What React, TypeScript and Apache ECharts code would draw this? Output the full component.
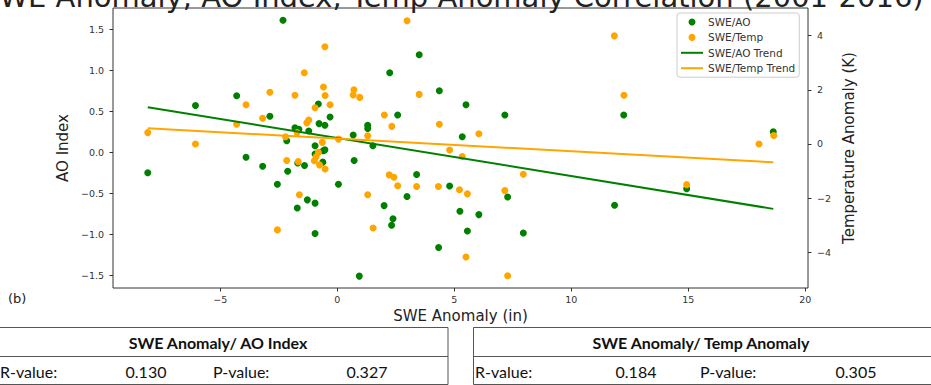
import React, { useEffect, useRef } from "react";
import * as echarts from "echarts";

// SWE anomaly (in) vs AO index
const aoPoints: [number, number][] = [
  [-8.1, -0.25], [-6.06, 0.57], [-4.3, 0.69], [-3.9, -0.06], [-3.19, -0.17],
  [-2.88, 0.44], [-2.56, -0.39], [-2.32, 1.61], [-2.16, 0.14], [-2.12, -0.23],
  [-1.81, 0.3], [-1.64, 0.28], [-1.71, -0.68], [-1.69, -0.13], [-1.4, -0.16],
  [-1.28, -0.58], [-1.22, 0.26], [-0.95, 0.08], [-0.95, -0.02], [-0.95, -0.62],
  [-0.95, -0.99], [-0.81, 0.59], [-0.78, 0.35], [-0.6, 0.02], [-0.53, 0.33],
  [-0.53, 0.03], [-0.62, -0.12], [-0.31, 0.43], [0.05, -0.39], [0.68, 0.21],
  [0.72, -0.1], [0.94, -1.51], [1.3, 0.33], [1.3, 0.29], [1.52, 0.08],
  [2.0, -0.65], [2.24, 0.97], [2.38, -0.81], [2.32, -0.89], [2.58, 0.455],
  [2.98, -0.54], [3.39, -0.27], [3.5, 1.19], [4.33, -1.16], [4.36, 0.75],
  [4.8, -0.41], [5.24, -0.72], [5.34, 0.19], [5.5, 0.58], [5.56, -0.96],
  [6.05, -0.76], [7.16, 0.455], [7.28, -0.545], [7.95, -0.985], [11.85, -0.646],
  [12.24, 0.455], [14.93, -0.445], [18.63, 0.25],
];

// SWE anomaly (in) vs temperature anomaly (K)
const tempPoints: [number, number][] = [
  [-8.1, 0.42], [-6.06, 0.0], [-4.3, 0.73], [-3.9, 1.45], [-3.19, 0.95],
  [-2.88, 1.91], [-2.56, -3.17], [-2.21, 0.27], [-2.16, -0.61], [-1.81, 1.8],
  [-1.72, 0.42], [-1.67, -0.65], [-1.62, -1.87], [-1.41, 2.63], [-1.3, 0.78],
  [-1.22, 0.88], [-0.95, 1.34], [-0.81, -0.31], [-0.91, -0.47], [-0.98, -0.62],
  [-0.76, -0.77], [-0.52, -0.92], [-0.64, 0.06], [-0.59, 2.1], [-0.52, 1.79],
  [-0.53, 3.59], [-0.31, 1.45], [0.05, 0.18], [0.68, 1.81], [0.71, 2.0],
  [0.96, 1.72], [1.3, 0.3], [1.3, -1.87], [1.53, -3.1], [2.01, 1.07],
  [2.33, 0.65], [2.22, -1.14], [2.42, -1.23], [2.58, -1.54], [2.98, 4.55],
  [3.39, -1.57], [3.5, 1.83], [4.32, -1.57], [4.36, 0.73], [4.8, -0.22],
  [5.22, -1.69], [5.34, -0.46], [5.5, -4.17], [5.56, -1.84], [6.05, 0.38],
  [7.16, -1.72], [7.28, -4.86], [7.95, -1.12], [11.84, 3.99], [12.25, 1.8],
  [14.93, -1.5], [18.02, 0.0], [18.65, 0.31],
];

// Trend line end points
const trendSWE = [-8.1, 18.63];
const aoTrend = [0.55, -0.69];
const tempTrend = [0.58, -0.675];

// Ticks
const xTicks = [-5, 0, 5, 10, 15, 20];
const aoTicks = [-1.5, -1.0, -0.5, 0.0, 0.5, 1.0, 1.5];
const tempTicks = [-4, -2, 0, 2, 4];

// Tables
const tableTitles = ["SWE Anomaly/ AO Index", "SWE Anomaly/ Temp Anomaly"];
const rValues = ["0.130", "0.184"];
const pValues = ["0.327", "0.305"];

const titleText = "SWE Anomaly, AO Index, Temp Anomaly Correlation (2001-2016)";

const GREEN = "#008000";
const ORANGE = "#FFA500";
const AXIS = "#333333";
const FONT = "DejaVu Sans";
const TFONT = "Lato";
const LINE_ICON = "path://M0,0 L22,0 L22,2 L0,2 Z";

const fmt = (d: number) => (v: number) =>
  (v < 0 ? "\u2212" : "") + Math.abs(v).toFixed(d);

export default function App() {
  const ref = useRef<HTMLDivElement>(null);

  useEffect(() => {
    if (!ref.current) return;
    const chart = echarts.init(ref.current, undefined, { renderer: "svg" });

    const tables = [
      { x0: -14, x1: 448, rx: 0, rvx: 146, px: 213, pvx: 367, cx: 218 },
      { x0: 473.5, x1: 940, rx: 475, rvx: 636, px: 700, pvx: 856, cx: 701 },
    ];
    const rowStyle = (text: string, align: string) => ({
      text,
      fontFamily: TFONT,
      fontSize: 16,
      fill: "#111",
      align,
      verticalAlign: "middle",
    });
    const tableGraphics: any[] = [];
    tables.forEach((t, i) => {
      tableGraphics.push(
        {
          type: "rect",
          shape: { x: t.x0, y: 327.5, width: t.x1 - t.x0, height: 57 },
          style: { fill: "none", stroke: "#555", lineWidth: 1 },
        },
        {
          type: "line",
          shape: { x1: t.x0, y1: 356.5, x2: t.x1, y2: 356.5 },
          style: { stroke: "#555", lineWidth: 1 },
        },
        {
          type: "text",
          x: t.cx,
          y: 342,
          style: {
            text: tableTitles[i],
            fontFamily: TFONT,
            fontWeight: "bold",
            fontSize: 16,
            fill: "#111",
            align: "center",
            verticalAlign: "middle",
          },
        },
        { type: "text", x: t.rx, y: 371, style: rowStyle("R-value:", "left") },
        { type: "text", x: t.rvx, y: 371, style: rowStyle(rValues[i], "center") },
        { type: "text", x: t.px, y: 371, style: rowStyle("P-value:", "left") },
        { type: "text", x: t.pvx, y: 371, style: rowStyle(pValues[i], "center") }
      );
    });

    const option: any = {
      animation: false,
      backgroundColor: "#ffffff",
      textStyle: { fontFamily: FONT },
      grid: {
        left: 113,
        right: 123,
        top: 8,
        bottom: 97,
        show: true,
        borderColor: AXIS,
        borderWidth: 1,
        backgroundColor: "transparent",
        outerBoundsMode: "none",
      },
      legend: {
        left: 677,
        top: 13,
        orient: "vertical",
        itemWidth: 22,
        itemHeight: 7,
        itemGap: 3.4,
        padding: [3, 4, 3, 4],
        backgroundColor: "rgba(255,255,255,0.85)",
        borderColor: "#cccccc",
        borderWidth: 1,
        borderRadius: 3,
        textStyle: { fontSize: 10.5, color: "#333", fontFamily: FONT, lineHeight: 12 },
        data: [
          { name: "SWE/AO", icon: "circle" },
          { name: "SWE/Temp", icon: "circle" },
          { name: "SWE/AO Trend", icon: LINE_ICON },
          { name: "SWE/Temp Trend", icon: LINE_ICON },
        ],
      },
      xAxis: {
        type: "value",
        min: -9.585,
        max: 20.115,
        name: "SWE Anomaly (in)",
        nameLocation: "middle",
        nameGap: 20,
        nameTextStyle: { fontSize: 15, color: "#222", fontFamily: FONT },
        splitLine: { show: false },
        axisLine: { show: false, onZero: false },
        axisTick: { show: true, inside: false, length: 3.5, lineStyle: { color: AXIS }, customValues: xTicks },
        axisLabel: { fontSize: 9.5, color: AXIS, margin: 6, formatter: fmt(0), customValues: xTicks },
      },
      yAxis: [
        {
          type: "value",
          position: "left",
          min: -1.655,
          max: 1.76,
          name: "AO Index",
          nameLocation: "middle",
          nameGap: 31,
          nameTextStyle: { fontSize: 15, color: "#222", fontFamily: FONT },
          splitLine: { show: false },
          axisLine: { show: false, onZero: false },
          axisTick: { show: true, inside: false, length: 3.5, lineStyle: { color: AXIS }, customValues: aoTicks },
          axisLabel: { fontSize: 9.5, color: AXIS, margin: 9, formatter: fmt(1), customValues: aoTicks },
        },
        {
          type: "value",
          position: "right",
          min: -5.314,
          max: 5.018,
          name: "Temperature Anomaly (K)",
          nameLocation: "middle",
          nameGap: 21,
          nameRotate: 90,
          nameTextStyle: { fontSize: 15, color: "#222", fontFamily: FONT },
          splitLine: { show: false },
          axisLine: { show: false, onZero: false },
          axisTick: { show: true, inside: false, length: 3.5, lineStyle: { color: AXIS }, customValues: tempTicks },
          axisLabel: { fontSize: 9.5, color: AXIS, margin: 9, formatter: fmt(0), customValues: tempTicks },
        },
      ],
      series: [
        {
          name: "SWE/AO",
          type: "scatter",
          yAxisIndex: 0,
          data: aoPoints,
          symbolSize: 7,
          itemStyle: { color: GREEN, opacity: 1 },
        },
        {
          name: "SWE/Temp",
          type: "scatter",
          yAxisIndex: 1,
          data: tempPoints,
          symbolSize: 7,
          itemStyle: { color: ORANGE, opacity: 1 },
        },
        {
          name: "SWE/AO Trend",
          type: "line",
          yAxisIndex: 0,
          data: trendSWE.map((x, i) => [x, aoTrend[i]]),
          symbol: "none",
          lineStyle: { color: GREEN, width: 2 },
          itemStyle: { color: GREEN },
        },
        {
          name: "SWE/Temp Trend",
          type: "line",
          yAxisIndex: 1,
          data: trendSWE.map((x, i) => [x, tempTrend[i]]),
          symbol: "none",
          lineStyle: { color: ORANGE, width: 2 },
          itemStyle: { color: ORANGE },
        },
      ],
      graphic: [
        {
          type: "text",
          x: -19,
          y: -3.5,
          silent: true,
          style: {
            text: titleText,
            fontFamily: FONT,
            fontSize: 29,
            fill: "#222",
            align: "left",
            verticalAlign: "middle",
          },
        },
        {
          type: "text",
          x: 8,
          y: 298,
          style: { text: "(b)", fontFamily: FONT, fontSize: 13, fill: "#222", align: "left", verticalAlign: "middle" },
        },
        ...tableGraphics,
      ],
    };

    chart.setOption(option);
    return () => chart.dispose();
  }, []);

  return (
    <div
      ref={ref}
      style={{ position: "fixed", left: 0, top: 0, width: 931, height: 385, background: "#fff" }}
    />
  );
}
